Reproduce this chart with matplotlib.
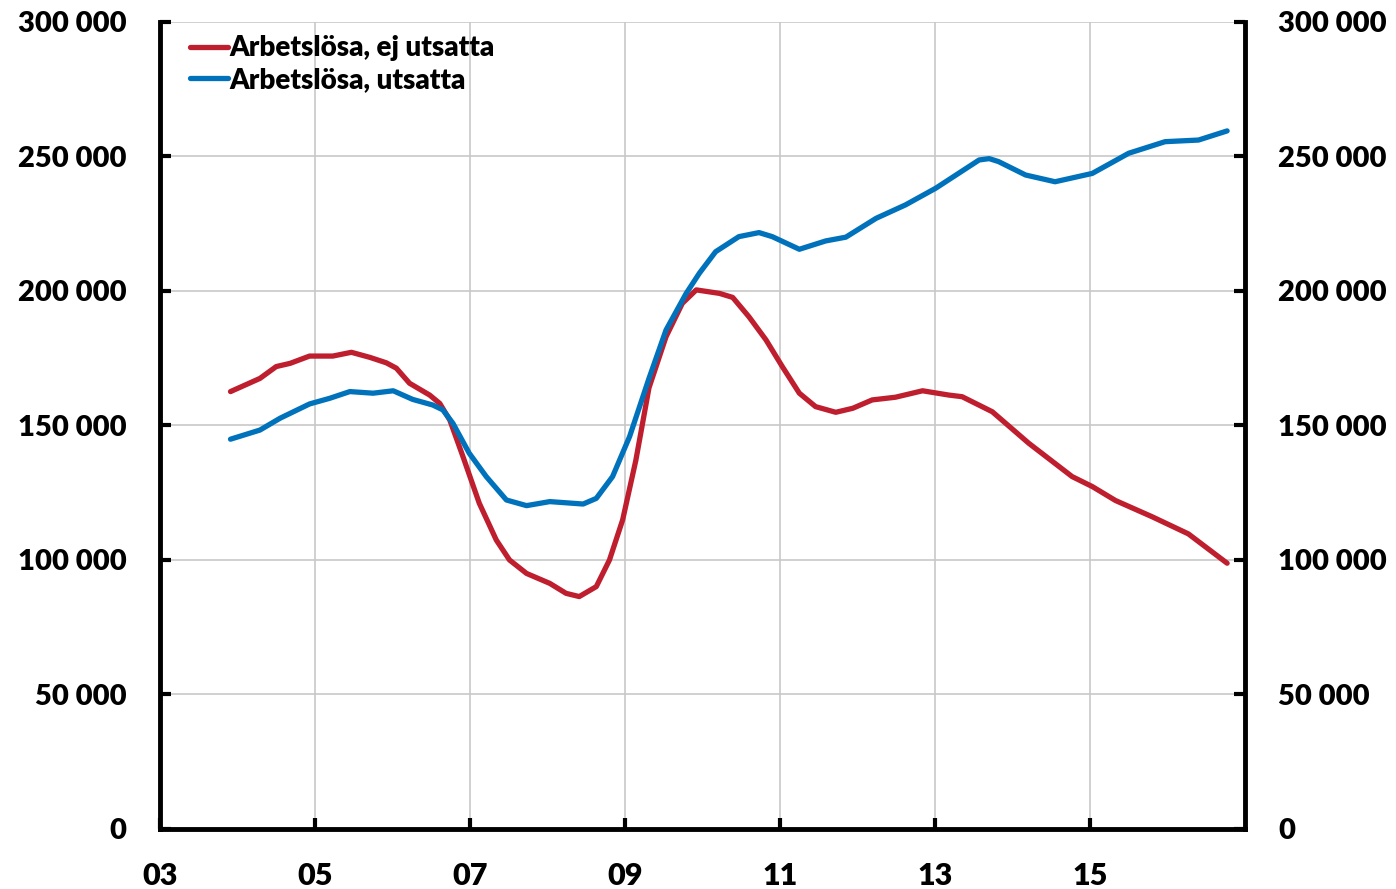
import matplotlib.pyplot as plt

# Arbetslösa, ej utsatta (year, persons)
ej_x = [2003.91, 2004.29, 2004.50, 2004.68, 2004.93, 2005.23, 2005.47, 2005.71, 2005.92,
        2006.05, 2006.22, 2006.48, 2006.61, 2006.74, 2006.91, 2007.12, 2007.34, 2007.51,
        2007.73, 2008.03, 2008.24, 2008.41, 2008.63, 2008.80, 2008.97, 2009.14, 2009.31,
        2009.53, 2009.74, 2009.92, 2010.22, 2010.39, 2010.60, 2010.82, 2011.03, 2011.25,
        2011.46, 2011.72, 2011.94, 2012.19, 2012.49, 2012.84, 2013.18, 2013.35, 2013.74,
        2014.21, 2014.77, 2015.03, 2015.33, 2015.80, 2016.27, 2016.49, 2016.77]
ej_y = [162600, 167500, 171900, 173100, 175800, 175800, 177200, 175300, 173300,
        171300, 165700, 161300, 158200, 152000, 138400, 121100, 107400, 100000,
        95000, 91300, 87600, 86400, 90100, 100000, 114900, 137000, 164000,
        183000, 195400, 200400, 199100, 197600, 190400, 181800, 171900, 162000,
        157000, 154900, 156400, 159500, 160500, 162900, 161300, 160700, 155100,
        143400, 131000, 127300, 122100, 116100, 109700, 104900, 98800]

# Arbetslösa, utsatta (year, persons)
ut_x = [2003.91, 2004.29, 2004.55, 2004.93, 2005.19, 2005.45, 2005.75, 2006.01, 2006.26,
        2006.52, 2006.65, 2006.78, 2006.99, 2007.21, 2007.47, 2007.73, 2008.03, 2008.46,
        2008.63, 2008.84, 2009.06, 2009.31, 2009.53, 2009.79, 2009.96, 2010.17, 2010.47,
        2010.73, 2010.90, 2011.25, 2011.59, 2011.85, 2012.24, 2012.62, 2013.01, 2013.57,
        2013.70, 2013.82, 2014.17, 2014.55, 2015.03, 2015.50, 2015.97, 2016.40, 2016.77]
ut_y = [144900, 148300, 152700, 158000, 160100, 162600, 162000, 162900, 159700,
        157600, 155800, 150800, 139700, 131000, 122300, 120200, 121700, 120800,
        122900, 131000, 145900, 167500, 185500, 199100, 206600, 214600, 220200,
        221700, 220200, 215500, 218600, 220000, 227000, 232000, 238200, 248700,
        249200, 248100, 243100, 240600, 243700, 251200, 255500, 256100, 259500]

xticks = [2003, 2005, 2007, 2009, 2011, 2013, 2015]
xlabels = ["03", "05", "07", "09", "11", "13", "15"]
yticks = [0, 50000, 100000, 150000, 200000, 250000, 300000]
ylabels = ["0", "50 000", "100 000", "150 000", "200 000", "250 000", "300 000"]

plt.rcParams['font.family'] = ['Lato', 'DejaVu Sans']

fig = plt.figure(figsize=(13.96, 8.89), dpi=100)
ax = fig.add_axes([0.1146, 0.0675, 0.7772, 0.9078])

ax.plot(ej_x, ej_y, color="#BE1E2D", lw=3.8, label="Arbetslösa, ej utsatta",
        solid_capstyle="round", solid_joinstyle="round", zorder=3)
ax.plot(ut_x, ut_y, color="#0072BC", lw=3.8, label="Arbetslösa, utsatta",
        solid_capstyle="round", solid_joinstyle="round", zorder=3)

ax.set_xlim(2003, 2017)
ax.set_ylim(0, 300000)

# rutnät
ax.grid(True, color="#C8C8C8", lw=1.2)
ax.set_axisbelow(True)

ax.set_xticks(xticks)
ax.set_xticklabels(xlabels, fontsize=22, fontweight="heavy")
ax.set_yticks(yticks)
ax.set_yticklabels(ylabels, fontsize=21, fontweight="heavy")

ax.tick_params(axis="y", direction="in", length=8, width=3, left=True, right=True,
               labelleft=True, labelright=True, pad=24)
ax.tick_params(axis="x", direction="in", length=8, width=3, pad=24)

for side in ["left", "right", "bottom"]:
    ax.spines[side].set_linewidth(3.5)
    ax.spines[side].set_color("black")
ax.spines["top"].set_visible(False)

leg = ax.legend(loc="upper left", frameon=False, fontsize=20, handlelength=1.4,
                handletextpad=0.05, labelspacing=0.2, borderaxespad=0.0,
                bbox_to_anchor=(0.017, 0.997))
for t in leg.get_texts():
    t.set_fontweight("heavy")

fig.savefig("out.png", dpi=100)
